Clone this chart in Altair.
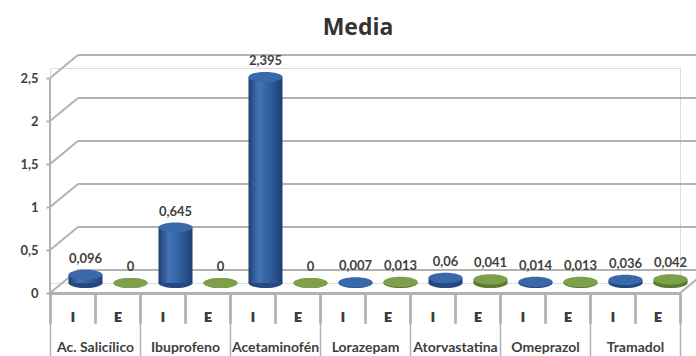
import altair as alt
import pandas as pd

drugs = ["Ac. Salicílico", "Ibuprofeno", "Acetaminofén", "Lorazepam",
         "Atorvastatina", "Omeprazol", "Tramadol"]
subs = ["I", "E"]
vals_I = [0.096, 0.645, 2.395, 0.007, 0.06, 0.014, 0.036]
vals_E = [0, 0, 0, 0.013, 0.041, 0.013, 0.042]
y_ticks = [0, 0.5, 1, 1.5, 2, 2.5]

rows = []
for d, vi, ve in zip(drugs, vals_I, vals_E):
    for s, v in (("I", vi), ("E", ve)):
        rows.append({"drug": d, "sub": s, "key": f"{d}|{s}", "value": v,
                     "label": str(v).replace(".", ",")})
df = pd.DataFrame(rows)
keys = list(df["key"])
df_grid = pd.DataFrame({"t": y_ticks})
df_drug = pd.DataFrame({"drug": drugs})

FONT = "Lato"
TXT = "#3f3f3f"
GRID = "#b2b2b2"
W, H = 630, 215
DX = 13          # depth shift of the bars
BACK = -13       # back wall offset
FRONT = 10       # front edge offset
ELL = "M-1,0A1,0.3,0,1,0,1,0A1,0.3,0,1,0,-1,0Z"
ESIZE = 34 * 34

xkey = alt.X("key:N", sort=keys,
             scale=alt.Scale(domain=keys, paddingInner=0, paddingOuter=0),
             axis=alt.Axis(title=None, orient="bottom", offset=FRONT,
                           labelExpr="split(datum.value, '|')[1]",
                           labelAngle=0, labelFont=FONT, labelFontSize=13,
                           labelFontWeight="bold", labelColor=TXT,
                           tickBand="extent", tickSize=30, tickColor=GRID,
                           tickWidth=1.5, labelPadding=-12,
                           domainColor=GRID, domainWidth=2))
yscale = alt.Scale(domain=[0, 2.5], nice=False)
yval = alt.Y("value:Q", scale=yscale, axis=None)

grid = alt.Chart(df_grid).mark_rule(color=GRID, strokeWidth=2, yOffset=BACK).encode(
    y=alt.Y("t:Q", scale=yscale,
            axis=alt.Axis(title=None, values=y_ticks, grid=False, domain=False,
                          orient="left",
                          tickOffset=FRONT, tickSize=4, tickColor=GRID,
                          tickWidth=2, labelPadding=8,
                          labelExpr="replace(toString(datum.value), '.', ',')",
                          labelFont=FONT, labelFontSize=13,
                          labelFontWeight="bold", labelColor=TXT)),
    x=alt.value(28), x2=alt.value(700))
diag = alt.Chart(df_grid).mark_rule(color=GRID, strokeWidth=2, yOffset=FRONT,
                                    y2Offset=BACK).encode(
    y=alt.Y("t:Q", axis=None), y2=alt.Y2("t"), x=alt.value(0), x2=alt.value(28))
front = alt.Chart(df_grid).mark_rule(color=GRID, strokeWidth=2, yOffset=FRONT,
                                     y2Offset=FRONT).encode(
    y=alt.Y("min(t):Q", axis=None), y2=alt.Y2("max(t)"), x=alt.value(0))
rdiag = alt.Chart(df_grid).transform_filter("datum.t == 0").mark_rule(
    color=GRID, strokeWidth=2, yOffset=FRONT, y2Offset=BACK).encode(
    y=alt.Y("t:Q", axis=None), y2=alt.Y2("t"), x=alt.value(W), x2=alt.value(W + 28))

drug_axis = alt.Chart(df_drug).transform_calculate(t="0").mark_point(opacity=0).encode(
    x=alt.X("drug:N", sort=drugs,
            scale=alt.Scale(domain=drugs, paddingInner=0, paddingOuter=0),
            axis=alt.Axis(title=None, orient="bottom", offset=FRONT, labelAngle=0,
                          labelFont=FONT, labelFontSize=14, labelFontWeight="bold",
                          labelColor=TXT, tickBand="extent", tickSize=64,
                          tickColor=GRID, tickWidth=1.5, labelPadding=-17,
                          domainColor=GRID, domainWidth=2)),
    y=alt.Y("t:Q", axis=None))

colors = {
    "I": ("#1f3f73", "#2f5d9c", "#4474b6", "#24487f", "#3a69ab"),
    "E": ("#4f6b26", "#6b8e3a", "#8aab52", "#5a7a2d", "#7fa04a"),
}

layers = [grid, diag, front, rdiag]
for s in subs:
    dark, mid, light, bottom, top = colors[s]
    grad = alt.LinearGradient(gradient="linear", x1=0, x2=1, y1=0, y2=0,
                              stops=[alt.GradientStop(color=dark, offset=0),
                                     alt.GradientStop(color=light, offset=0.3),
                                     alt.GradientStop(color=mid, offset=0.65),
                                     alt.GradientStop(color=dark, offset=1)])
    base = alt.Chart(df).transform_filter(f"datum.sub == '{s}'")
    layers.append(base.transform_calculate(zero="0").mark_point(
        shape=ELL, size=ESIZE, filled=True, opacity=1, color=bottom,
        xOffset=DX).encode(x=xkey, y=alt.Y("zero:Q", axis=None)))
    layers.append(base.mark_bar(width=34, xOffset=DX, color=grad).encode(
        x=xkey, y=yval))
    layers.append(base.mark_point(shape=ELL, size=ESIZE, filled=True, opacity=1,
                                  color=top, xOffset=DX).encode(x=xkey, y=yval))

labels = alt.Chart(df).mark_text(dx=DX, dy=-9, baseline="bottom", font=FONT,
                                 fontSize=13, fontWeight="bold", color=TXT).encode(
    x=xkey, y=yval, text="label:N")
layers.append(labels)
layers.append(drug_axis)

chart = alt.layer(*layers).resolve_scale(x="independent").resolve_axis(
    x="independent", y="independent").properties(
    width=W, height=H,
    title=alt.TitleParams("Media", font="Open Sans", fontSize=23,
                          fontWeight="bold", color="#333333", anchor="middle",
                          dx=-7, offset=14),
    autosize=alt.AutoSizeParams(type="none"),
    padding={"left": 50, "top": 68, "right": 16, "bottom": 73},
).configure_view(stroke=None).configure(background="white")

chart.save("out.html", embed_options={"renderer": "svg", "actions": False})
